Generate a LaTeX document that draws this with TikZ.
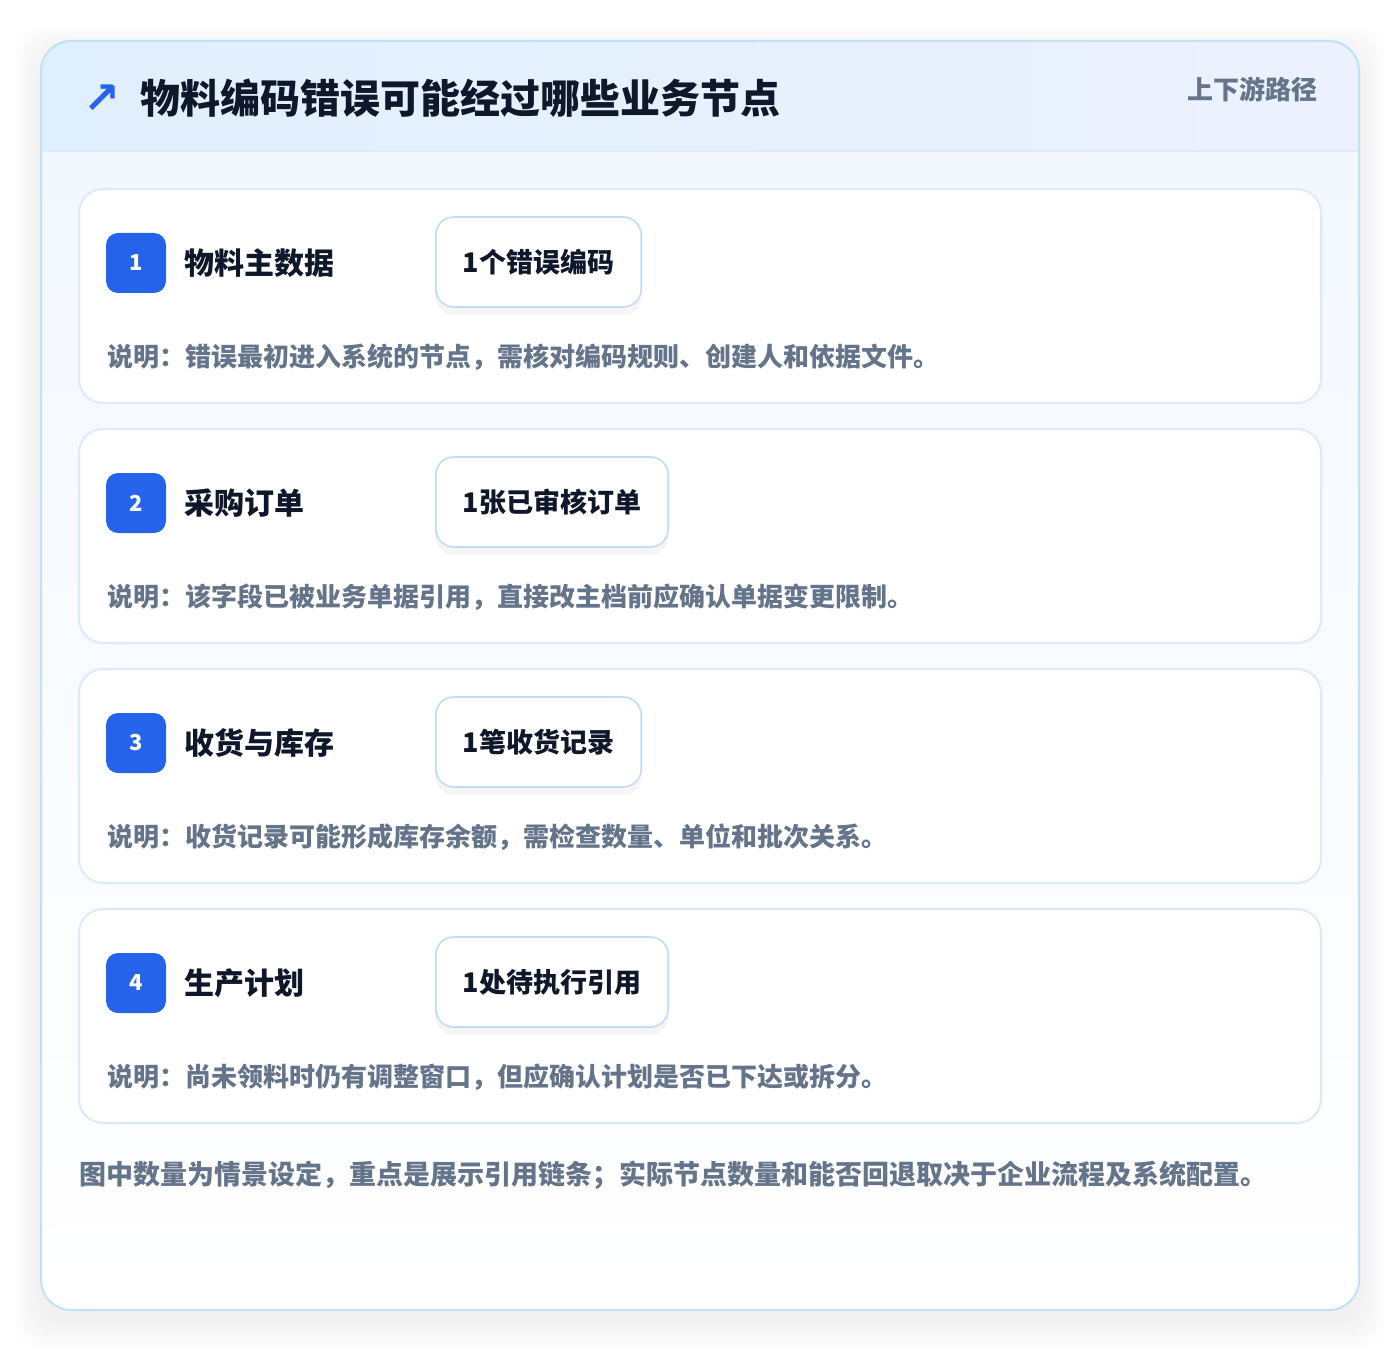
\documentclass[tikz,border=0pt]{standalone}
\usepackage{fontspec}
\setmainfont{Noto Sans CJK SC}
\newfontfamily\symfont{DejaVu Sans}
\usepackage{tikz}
\usetikzlibrary{positioning, shadows}
\definecolor{myblue}{RGB}{37, 99, 235}
\definecolor{myink}{RGB}{15, 23, 42}
\definecolor{mygrey}{RGB}{100, 116, 139}
\definecolor{myframe}{RGB}{190, 227, 248}
\definecolor{myline}{RGB}{219, 234, 254}
\definecolor{mytag}{RGB}{191, 219, 254}
\definecolor{myhead1}{RGB}{224, 239, 253}
\definecolor{myhead2}{RGB}{236, 241, 253}
\definecolor{mybody}{RGB}{243, 248, 255}
\tikzset{
  card/.style = {draw=myline, line width=1pt, fill=white, rounded corners=12pt},
  badge/.style = {fill=myblue, text=white, rounded corners=6pt, minimum size=30pt,
    inner sep=0pt, font=\fontsize{11}{13}\selectfont\bfseries},
  steplabel/.style = {text=myink, inner sep=0pt, font=\fontsize{15}{18}\selectfont\bfseries},
  tagbox/.style = {draw=mytag, line width=0.8pt, fill=white, rounded corners=9pt,
    minimum height=45pt, inner xsep=13.5pt, text=myink,
    font=\fontsize{13.5}{16}\selectfont\bfseries,
    general shadow={shadow xshift=0pt, shadow yshift=-4pt, fill=black, opacity=0.04}},
  note/.style = {text=mygrey, inner sep=0pt, font=\fontsize{13}{16}\selectfont\bfseries}
}

\begin{document}
\begin{tikzpicture}[x=0.5pt, y=-0.5pt]
\useasboundingbox (0, 0) rectangle (1400, 1352);
\fill[white] (0, 0) rectangle (1400, 1352);

% outer panel with soft shadow
\foreach \s in {2, 4, ..., 28}
  \fill[black, opacity=0.005, rounded corners=15pt] (41-\s, 41-\s+12) rectangle (1359+\s, 1310+\s+12);
\begin{scope}
\clip[rounded corners=15pt] (41, 41) rectangle (1359, 1310);
\shade[top color=mybody, bottom color=white] (41, 151) rectangle (1359, 1310);
\shade[left color=myhead1, right color=myhead2] (41, 41) rectangle (1359, 151);
\draw[myline, line width=1pt] (41, 151) -- (1359, 151);
\end{scope}
\draw[myframe, line width=1pt, rounded corners=15pt] (41, 41) rectangle (1359, 1310);

% header
\node[text=myblue, inner sep=0pt, font=\symfont\fontsize{22}{24}\selectfont\bfseries] (icon) at (102, 99) {↗};
\node[anchor=west, inner sep=0pt, text=myink, font=\fontsize{20}{24}\selectfont\bfseries] (title) at (140, 98) {物料编码错误可能经过哪些业务节点};
\node[anchor=east, inner sep=0pt, text=mygrey, font=\fontsize{13}{16}\selectfont\bfseries] (route) at (1318, 89) {上下游路径};

% card 1
\draw[card] (79, 189) rectangle (1321, 403);
\node[badge] (b1) at (136, 263) {1};
\node[steplabel, right=9pt of b1] (l1) {物料主数据};
\node[tagbox, anchor=west] (t1) at (435, 262) {1个错误编码};
\node[note, anchor=west] (n1) at (107, 357) {说明：错误最初进入系统的节点，需核对编码规则、创建人和依据文件。};

% card 2
\draw[card] (79, 429) rectangle (1321, 643);
\node[badge] (b2) at (136, 503) {2};
\node[steplabel, right=9pt of b2] (l2) {采购订单};
\node[tagbox, anchor=west] (t2) at (435, 502) {1张已审核订单};
\node[note, anchor=west] (n2) at (107, 597) {说明：该字段已被业务单据引用，直接改主档前应确认单据变更限制。};

% card 3
\draw[card] (79, 669) rectangle (1321, 883);
\node[badge] (b3) at (136, 743) {3};
\node[steplabel, right=9pt of b3] (l3) {收货与库存};
\node[tagbox, anchor=west] (t3) at (435, 742) {1笔收货记录};
\node[note, anchor=west] (n3) at (107, 837) {说明：收货记录可能形成库存余额，需检查数量、单位和批次关系。};

% card 4
\draw[card] (79, 909) rectangle (1321, 1123);
\node[badge] (b4) at (136, 983) {4};
\node[steplabel, right=9pt of b4] (l4) {生产计划};
\node[tagbox, anchor=west] (t4) at (435, 982) {1处待执行引用};
\node[note, anchor=west] (n4) at (107, 1077) {说明：尚未领料时仍有调整窗口，但应确认计划是否已下达或拆分。};

% footer
\node[anchor=west, inner sep=0pt, text=mygrey, font=\fontsize{13.5}{16}\selectfont\bfseries] (foot) at (79, 1175) {图中数量为情景设定，重点是展示引用链条；实际节点数量和能否回退取决于企业流程及系统配置。};
\end{tikzpicture}
\end{document}
